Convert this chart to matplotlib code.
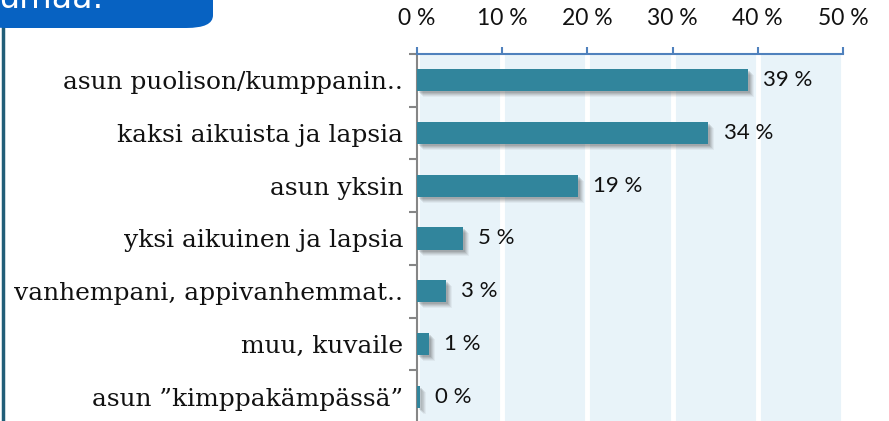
import matplotlib.pyplot as plt
import matplotlib.transforms as mtransforms
from matplotlib.patches import FancyBboxPatch
from matplotlib.lines import Line2D

categories = [
    "asun puolison/kumppanin..",
    "kaksi aikuista ja lapsia",
    "asun yksin",
    "yksi aikuinen ja lapsia",
    "vanhempani, appivanhemmat..",
    "muu, kuvaile",
    "asun \u201dkimppakämpässä\u201d",
]
values = [38.8, 34.2, 18.9, 5.4, 3.4, 1.4, 0.3]
x_ticks = [0, 10, 20, 30, 40, 50]

bar_color = "#31859C"
panel_color = "#E8F3F9"

fig = plt.figure(figsize=(8.89, 4.21), dpi=100)
ax = fig.add_axes([417 / 889, -2 / 421, 426 / 889, 369 / 421])
ax.set_facecolor(panel_color)

pos = list(range(len(categories)))

# soft shadow under the bars
for dx, dy, a in [(6, -6, 0.06), (5, -5, 0.08), (4, -4, 0.10), (3, -3, 0.12), (2, -2, 0.14)]:
    off = mtransforms.offset_copy(ax.transData, fig=fig, x=dx, y=dy, units="dots")
    ax.barh(pos, values, height=0.42, color="#404040", alpha=a,
            transform=off, zorder=2, linewidth=0)

ax.barh(pos, values, height=0.42, color=bar_color, zorder=3, linewidth=0)

for p, v in zip(pos, values):
    ax.annotate(f"{v:.0f} %", (v, p), xytext=(11, 0), textcoords="offset points",
                va="center", ha="left", fontsize=16, family="Lato", color="#111111")

ax.set_xlim(0, 50)
ax.set_ylim(len(categories) - 0.5, -0.5)
ax.set_xticks(x_ticks)
ax.set_xticklabels([f"{t} %" for t in x_ticks], family="Lato", fontsize=16.5)
ax.xaxis.tick_top()
ax.tick_params(axis="x", direction="out", length=5, width=1.5, color="#4F81BD",
               pad=13, labelcolor="#111111")
ax.grid(axis="x", color="white", linewidth=3.5, zorder=1)
ax.set_axisbelow(True)

ax.set_yticks(pos)
ax.set_yticklabels(categories, family="DejaVu Serif", fontsize=17.9, color="#111111")
ax.set_yticks([p + 0.5 for p in [-1] + pos], minor=True)
ax.tick_params(axis="y", which="major", length=0, pad=10)
ax.tick_params(axis="y", which="minor", length=6, width=1.5, color="#868686")

for s in ["right", "bottom"]:
    ax.spines[s].set_visible(False)
ax.spines["top"].set_color("#4F81BD")
ax.spines["top"].set_linewidth(1.5)
ax.spines["left"].set_color("#868686")
ax.spines["left"].set_linewidth(1.5)

# slide decoration: title box and left rule
box = FancyBboxPatch((-20 / 889, 1 - 28 / 421), 233 / 889, 60 / 421,
                     boxstyle="round,pad=0,rounding_size=0.03",
                     transform=fig.transFigure, facecolor="#0762C2",
                     edgecolor="none", zorder=5)
fig.patches.append(box)
fig.text(-2 / 889, 1 - 8 / 421, "umaa.", color="white", fontsize=24,
         family="DejaVu Sans", va="baseline", ha="left", zorder=6)
fig.add_artist(Line2D([3 / 889, 3 / 889], [0, 1 - 28 / 421],
                      transform=fig.transFigure, color="#215E78", linewidth=2.5))

fig.savefig("out.png", dpi=100)
